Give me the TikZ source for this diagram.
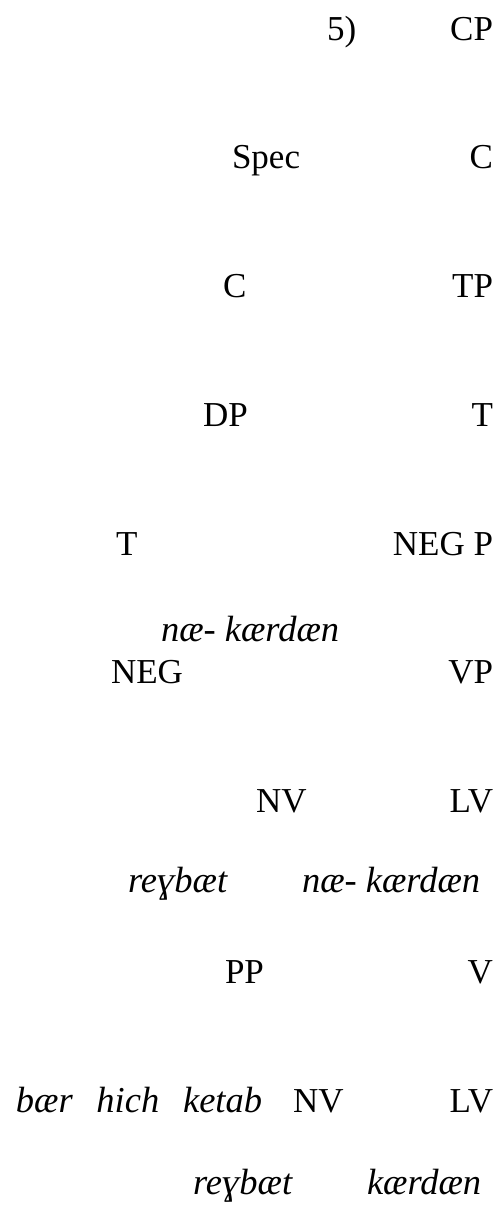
\documentclass[tikz,border=0pt]{standalone}
\usepackage{fontspec}
\setmainfont{Liberation Serif}
\begin{document}
\begin{tikzpicture}[x=1pt,y=-1pt,
  lbl/.style={inner sep=0pt,outer sep=0pt,font=\fontsize{35}{42}\selectfont},
  lex/.style={lbl,font=\fontsize{36.5}{42}\selectfont\itshape},
  L/.style={anchor=base west},
  R/.style={anchor=base east}]
\useasboundingbox (0,0) rectangle (502,1205);
% CP layer
\node[lbl,L] (ex)   at (327,40)  {5)};
\node[lbl,R] (cp)   at (493,40)  {CP};
\node[lbl,L] (spec) at (232,168) {Spec};
\node[lbl,R] (cbar) at (493,168) {C};
\node[lbl,L] (c)    at (223,297) {C};
\node[lbl,R] (tp)   at (493,297) {TP};
% TP layer
\node[lbl,L] (dp)   at (203,426) {DP};
\node[lbl,R] (tbar) at (493,426) {T};
\node[lbl,L] (t)    at (116,555) {T};
\node[lbl,R] (negp) at (493,555) {NEG P};
% NegP layer
\node[lex,L] (neglex) at (161,641) {næ- kærdæn};
\node[lbl,L] (neg)  at (111,683) {NEG};
\node[lbl,R] (vp)   at (493,683) {VP};
\node[lbl,L] (nva)  at (256,812) {NV};
\node[lbl,R] (lva)  at (493,812) {LV};
\node[lex,L] (nva-lex) at (128,892) {reɣbæt};
\node[lex,L] (lva-lex) at (302,892) {næ- kærdæn};
% lower VP layer
\node[lbl,L] (pp)   at (225,983) {PP};
\node[lbl,R] (v)    at (493,983) {V};
\node[lex,L] (pp-lex) at (16,1112) {bær\hspace{0.65em}hich\hspace{0.65em}ketab};
\node[lbl,L] (nvb)  at (293,1112) {NV};
\node[lbl,R] (lvb)  at (493,1112) {LV};
\node[lex,L] (nvb-lex) at (193,1194) {reɣbæt};
\node[lex,L] (lvb-lex) at (367,1194) {kærdæn};
\end{tikzpicture}
\end{document}
